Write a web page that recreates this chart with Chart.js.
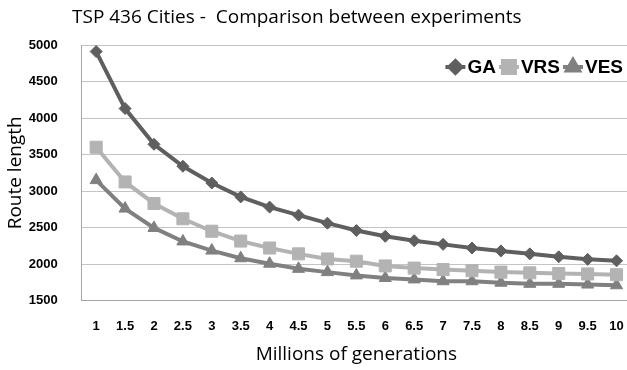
<!DOCTYPE html>
<html>
<head>
<meta charset="utf-8">
<script src="https://cdn.jsdelivr.net/npm/chart.js@4.4.0/dist/chart.umd.min.js"></script>
<style>
  html, body { margin: 0; padding: 0; background: #fff; }
  #wrap { width: 627px; height: 370px; }
</style>
</head>
<body>
<div id="wrap"><canvas id="line-chart"></canvas></div>
<script>
// du lieu doc tu hinh
var generations = ['1', '1.5', '2', '2.5', '3', '3.5', '4', '4.5', '5', '5.5',
                   '6', '6.5', '7', '7.5', '8', '8.5', '9', '9.5', '10'];
var gaValues  = [4910, 4130, 3640, 3340, 3110, 2920, 2780, 2670, 2560, 2460,
                 2380, 2320, 2270, 2220, 2180, 2140, 2100, 2065, 2045];
var vrsValues = [3600, 3125, 2830, 2620, 2450, 2315, 2220, 2140, 2070, 2040,
                 1975, 1945, 1925, 1910, 1890, 1880, 1870, 1865, 1855];
var vesValues = [3150, 2760, 2495, 2310, 2185, 2080, 2005, 1935, 1890, 1845,
                 1810, 1790, 1765, 1765, 1745, 1730, 1730, 1720, 1710];
var yTicks = [1500, 2000, 2500, 3000, 3500, 4000, 4500, 5000];

var chartTitle = 'TSP 436 Cities -  Comparison between experiments';

Chart.defaults.font.family = "'Liberation Sans', Arial, sans-serif";
Chart.defaults.color = '#000';

function makeSeries(label, data, color, style, radius) {
    return {
        label: label,
        data: data,
        borderColor: color,
        backgroundColor: color,
        borderWidth: 4,
        pointStyle: style,
        pointRadius: radius,
        pointHoverRadius: radius,
        pointBackgroundColor: color,
        pointBorderColor: color,
        pointBorderWidth: 1,
        tension: 0
    };
}

// plot area runs a little past the right edge, like the original
var stretchPlugin = {
    id: 'stretch',
    afterLayout: function (chart) {
        var right = chart.width + 4;
        var xs = chart.scales.x;
        chart.chartArea.right = right;
        chart.chartArea.width = right - chart.chartArea.left;
        xs.right = right;
        xs.width = right - xs.left;
        xs.configure();
    }
};

// title + legend drawn by hand (legend sits inside the plot)
var extrasPlugin = {
    id: 'extras',
    afterDraw: function (chart) {
        var ctx = chart.ctx;
        ctx.save();
        ctx.fillStyle = '#000';
        ctx.font = "19px 'Open Sans', sans-serif";
        ctx.textBaseline = 'middle';
        ctx.textAlign = 'left';
        ctx.fillText(chartTitle, 72, 18);

        // legend, right aligned in the plot
        ctx.font = "bold 19px 'Liberation Sans', Arial, sans-serif";
        var y = chart.chartArea.top + 22;
        var x = 623;
        var items = chart.data.datasets.slice().reverse();
        items.forEach(function (ds) {
            var tw = ctx.measureText(ds.label).width;
            x -= tw;
            ctx.fillStyle = '#000';
            ctx.fillText(ds.label, x, y + 1);
            x -= 2;
            var lx = x - 20;
            ctx.strokeStyle = ds.borderColor;
            ctx.lineWidth = 4;
            ctx.beginPath();
            ctx.moveTo(lx, y);
            ctx.lineTo(x, y);
            ctx.stroke();
            ctx.fillStyle = ds.borderColor;
            Chart.helpers.drawPoint(ctx, {
                pointStyle: ds.pointStyle,
                radius: ds.pointRadius,
                borderWidth: 1,
                rotation: 0
            }, lx + 10, y);
            x = lx - 3;
        });
        ctx.restore();
    }
};

var ctx = document.getElementById('line-chart').getContext('2d');
var chart = new Chart(ctx, {
    type: 'line',
    data: {
        labels: generations,
        datasets: [
            makeSeries('GA', gaValues, '#5f5f5f', 'rectRot', 6),
            makeSeries('VRS', vrsValues, '#b3b3b3', 'rect', 8.5),
            makeSeries('VES', vesValues, '#808080', 'triangle', 7)
        ]
    },
    options: {
        responsive: true,
        maintainAspectRatio: false,
        animation: false,
        layout: { padding: { top: 45, left: 4, right: 0, bottom: 0 } },
        plugins: {
            legend: { display: false },
            title: { display: false },
            tooltip: { enabled: false }
        },
        scales: {
            x: {
                offset: true,
                grid: { display: false, drawTicks: false },
                border: { display: true, color: '#a6a6a6', width: 1 },
                ticks: { padding: 18, font: { size: 13, weight: 'bold' }, maxRotation: 0, autoSkip: false },
                title: {
                    display: true,
                    text: 'Millions of generations',
                    font: { family: "'Open Sans', sans-serif", size: 19 },
                    padding: { top: -9, bottom: 4 }
                }
            },
            y: {
                min: yTicks[0],
                max: yTicks[yTicks.length - 1],
                afterBuildTicks: function (axis) {
                    axis.ticks = yTicks.map(function (v) { return { value: v }; });
                },
                grid: { color: '#c4c4c4', drawTicks: false },
                border: { display: true, color: '#a6a6a6', width: 1 },
                ticks: {
                    padding: 24,
                    font: { size: 13, weight: 'bold' },
                    callback: function (value) { return String(value); }
                },
                title: {
                    display: true,
                    text: 'Route length',
                    font: { family: "'Open Sans', sans-serif", size: 19 },
                    padding: { top: 0, bottom: -22 }
                }
            }
        }
    },
    plugins: [stretchPlugin, extrasPlugin]
});
</script>
</body>
</html>
